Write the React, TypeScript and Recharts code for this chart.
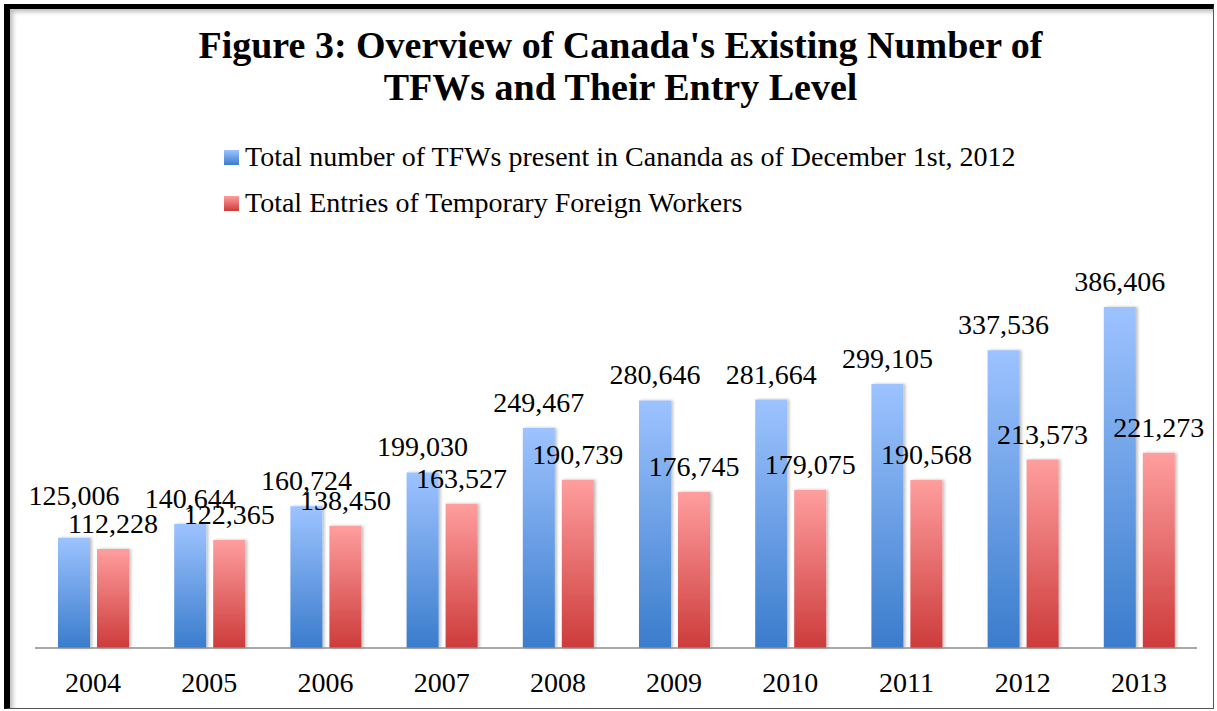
import React from "react";
import { BarChart, Bar, XAxis, YAxis, LabelList, Legend } from "recharts";

const years = ["2004", "2005", "2006", "2007", "2008", "2009", "2010", "2011", "2012", "2013"];
const presentTFWs = [125006, 140644, 160724, 199030, 249467, 280646, 281664, 299105, 337536, 386406];
const entriesTFWs = [112228, 122365, 138450, 163527, 190739, 176745, 179075, 190568, 213573, 221273];
const seriesNames = [
  "Total number of TFWs present in Cananda as of December 1st, 2012",
  "Total Entries of Temporary Foreign Workers",
];
const titleLines = ["Figure 3: Overview of Canada's Existing Number of", "TFWs and Their Entry Level"];

const data = years.map((y, i) => ({ year: y, present: presentTFWs[i], entries: entriesTFWs[i] }));

const FONT = "'Liberation Serif', 'Times New Roman', serif";
const fmt = (v: number) => v.toLocaleString("en-US");
const LABEL_GAP = 16;
const LINE = 28;

const legendItems = [
  { name: seriesNames[0], grad: "linear-gradient(#9DC3FF, #3A7CCC)" },
  { name: seriesNames[1], grad: "linear-gradient(#FF9E9E, #CD3B3B)" },
];

const LegendContent = () => (
  <div style={{ fontFamily: FONT, fontSize: 28, color: "#000" }}>
    {legendItems.map((it) => (
      <div key={it.name} style={{ display: "flex", alignItems: "center", height: 46, whiteSpace: "nowrap" }}>
        <span style={{ display: "inline-block", width: 15, height: 15, background: it.grad, marginRight: 6 }} />
        <span>{it.name}</span>
      </div>
    ))}
  </div>
);

const textStyle = { fill: "#000", fontSize: 28, fontFamily: FONT };

// Red (entries) labels: just above the bar.
const RedLabel = (props: any) => {
  const { x, y, width, value } = props;
  return (
    <text x={x + width / 2} y={y - LABEL_GAP} textAnchor="middle" style={textStyle}>
      {fmt(value)}
    </text>
  );
};

// Blue labels: above the bar, lifted over the neighbouring red label when they would collide.
const BlueLabel = (props: any) => {
  const { x, y, width, height, value, index } = props;
  const base = y + height;
  const k = value ? height / value : 0;
  const redTop = base - entriesTFWs[index] * k;
  let by = y - LABEL_GAP;
  const redBaseline = redTop - LABEL_GAP;
  if (redBaseline - by < 14) by = redBaseline - LINE;
  return (
    <text x={x + width / 2} y={by} textAnchor="middle" style={textStyle}>
      {fmt(value)}
    </text>
  );
};

export default function App() {
  return (
    <div style={{ position: "absolute", left: 0, top: 0, width: 1217, height: 711, background: "#fff", overflow: "hidden" }}>
      <div
        style={{
          position: "absolute",
          left: 4,
          top: 4,
          width: 1217 - 4 - 3 - 7,
          height: 711 - 4 - 2 - 6,
          borderLeft: "6px solid #000",
          borderTop: "5px solid #000",
          borderRight: "1px solid #555",
          borderBottom: "1px solid #555",
          boxShadow: "inset 3px 3px 4px rgba(0,0,0,0.25)",
        }}
      />
      <div
        style={{
          position: "absolute",
          left: 12,
          top: 24,
          width: 1217,
          textAlign: "center",
          fontFamily: FONT,
          fontWeight: "bold",
          fontSize: 38,
          lineHeight: "42px",
          color: "#000",
        }}
      >
        {titleLines.map((l) => (
          <div key={l}>{l}</div>
        ))}
      </div>
      <div style={{ position: "absolute", left: 0, top: 0 }}>
        <BarChart
          width={1217}
          height={711}
          data={data}
          margin={{ top: 251, right: 20, bottom: 33, left: 35 }}
          barSize={32}
          barGap={7}
          style={{ fontFamily: FONT }}
        >
          <defs>
            <linearGradient id="gBlue" x1="0" y1="0" x2="0" y2="1">
              <stop offset="0%" stopColor="#9DC3FF" />
              <stop offset="100%" stopColor="#3A7CCC" />
            </linearGradient>
            <linearGradient id="gRed" x1="0" y1="0" x2="0" y2="1">
              <stop offset="0%" stopColor="#FF9E9E" />
              <stop offset="100%" stopColor="#CD3B3B" />
            </linearGradient>
            <filter id="shadow" x="-20%" y="-5%" width="140%" height="110%">
              <feDropShadow dx="2" dy="0" stdDeviation="1.5" floodColor="#000" floodOpacity="0.25" />
            </filter>
          </defs>
          <XAxis
            dataKey="year"
            height={30}
            axisLine={{ stroke: "#8c8c8c", strokeWidth: 1.5 }}
            tickLine={false}
            tickSize={0}
            tickMargin={24}
            tick={{ fill: "#000", fontSize: 28, fontFamily: FONT }}
            interval={0}
          />
          <YAxis hide domain={[0, 450000]} />
          <Legend
            layout="vertical"
            align="center"
            verticalAlign="middle"
            content={<LegendContent />}
            wrapperStyle={{ left: 224, top: 134, width: 900 }}
          />
          <Bar dataKey="present" name={seriesNames[0]} fill="url(#gBlue)" filter="url(#shadow)" isAnimationActive={false}>
            <LabelList dataKey="present" content={<BlueLabel />} />
          </Bar>
          <Bar dataKey="entries" name={seriesNames[1]} fill="url(#gRed)" filter="url(#shadow)" isAnimationActive={false}>
            <LabelList dataKey="entries" content={<RedLabel />} />
          </Bar>
        </BarChart>
      </div>
    </div>
  );
}
